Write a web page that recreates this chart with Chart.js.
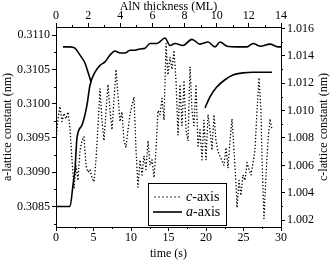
<!DOCTYPE html>
<html>
<head>
<meta charset="utf-8">
<script src="https://cdn.jsdelivr.net/npm/chart.js@4.4.0/dist/chart.umd.min.js"></script>
<style>
    html, body { margin: 0; padding: 0; background: #fff; }
</style>
</head>
<body>
<canvas id="latticeChart" width="332" height="261"></canvas>
<script>
// c-axis (dotted, right axis)
const cTime = [0.00, 0.27, 0.53, 0.80, 1.07, 1.33, 1.60, 1.87, 2.13, 2.40, 2.67, 2.93, 3.20, 3.47, 3.73, 4.00,
    4.27, 4.53, 4.80, 5.07, 5.33, 5.60, 5.87, 6.13, 6.40, 6.67, 6.93, 7.20, 7.47, 7.73, 8.00, 8.27, 8.53, 8.80,
    9.07, 9.33, 9.60, 9.87, 10.13, 10.40, 10.67, 10.93, 11.20, 11.47, 11.73, 12.00, 12.27, 12.53, 12.80, 13.07,
    13.33, 13.60, 13.87, 14.13, 14.40, 14.67, 14.93, 15.20, 15.47, 15.73, 16.00, 16.27, 16.53, 16.80, 17.07,
    17.33, 17.60, 17.87, 18.13, 18.40, 18.67, 18.93, 19.20, 19.47, 19.73, 20.00, 20.27, 20.53, 20.80, 21.07,
    21.33, 21.60, 22.00, 22.40, 22.67, 22.93, 23.20, 23.47, 23.73, 24.00, 24.13, 24.40, 24.67, 24.93, 25.20,
    25.47, 25.73, 26.00, 26.27, 26.53, 26.80, 27.07, 27.33, 27.47, 27.73, 28.00, 28.27, 28.53, 28.80];
const cLattice = [1.0078, 1.0094, 1.0103, 1.0092, 1.0098, 1.0094, 1.0099, 1.0087, 1.0064, 1.0043, 1.0060, 1.0049,
    1.0071, 1.0078, 1.0081, 1.0060, 1.0055, 1.0057, 1.0051, 1.0048, 1.0064, 1.0089, 1.0116, 1.0093, 1.0078,
    1.0100, 1.0119, 1.0100, 1.0086, 1.0108, 1.0130, 1.0111, 1.0092, 1.0099, 1.0078, 1.0073, 1.0086, 1.0097,
    1.0104, 1.0110, 1.0071, 1.0044, 1.0064, 1.0053, 1.0067, 1.0057, 1.0078, 1.0060, 1.0064, 1.0051, 1.0071,
    1.0100, 1.0097, 1.0109, 1.0093, 1.0149, 1.0126, 1.0139, 1.0130, 1.0144, 1.0122, 1.0082, 1.0119, 1.0089,
    1.0122, 1.0086, 1.0078, 1.0132, 1.0100, 1.0089, 1.0119, 1.0073, 1.0086, 1.0064, 1.0093, 1.0064, 1.0097,
    1.0086, 1.0071, 1.0097, 1.0078, 1.0070, 1.0065, 1.0060, 1.0073, 1.0058, 1.0078, 1.0094, 1.0071, 1.0046,
    1.0029, 1.0049, 1.0038, 1.0053, 1.0049, 1.0062, 1.0057, 1.0053, 1.0062, 1.0071, 1.0100, 1.0124, 1.0100,
    1.0064, 1.0021, 1.0053, 1.0078, 1.0094, 1.0086];

// a-axis (solid, left axis)
const aTime = [0, 1.87, 2.27, 2.53, 2.8, 3.47, 4.13, 4.53, 5.2, 5.87, 6.53, 7.2, 7.87, 8.53, 9.2, 9.87, 10.53,
    11.2, 11.87, 12.53, 13.47, 14.53, 15.2, 15.87, 16.93, 18.13, 19.2, 20.27, 21.2, 21.87, 22.8, 24.13, 25.47,
    26.27, 27.2, 28.53, 29.6, 30];
const aLattice = [0.30850, 0.30850, 0.30882, 0.30904, 0.30950, 0.30969, 0.30998, 0.31027, 0.31046, 0.31056,
    0.31061, 0.31071, 0.31077, 0.31074, 0.31074, 0.31078, 0.31078, 0.31080, 0.31081, 0.31088, 0.31088, 0.31096,
    0.31085, 0.31088, 0.31085, 0.31094, 0.31087, 0.31090, 0.31083, 0.31090, 0.31084, 0.31083, 0.31083, 0.31088,
    0.31084, 0.31087, 0.31083, 0.31083];

// guide curves drawn in the original figure
const dipTime = [0.93, 1.87, 2.53, 3.2, 3.87, 4.27, 4.67];
const dipLattice = [0.31083, 0.31083, 0.31081, 0.31071, 0.31059, 0.31046, 0.31032];
const riseTime = [19.87, 20.53, 21.4, 22.53, 23.6, 24.93, 26.27, 28.8];
const riseLattice = [0.30994, 0.31010, 0.31024, 0.31035, 0.31042, 0.31045, 0.31046, 0.31046];

// tick labels
const timeTicks = [0, 5, 10, 15, 20, 25, 30];
const thicknessTicks = [0, 2, 4, 6, 8, 10, 12, 14];
const aTicks = [0.3085, 0.3090, 0.3095, 0.3100, 0.3105, 0.3110];
const cTicks = [1.002, 1.004, 1.006, 1.008, 1.010, 1.012, 1.014, 1.016];

const serif = '"Liberation Serif", "DejaVu Serif", serif';

function points(xs, ys) {
    return xs.map((x, i) => ({ x: x, y: ys[i] }));
}

function setTicks(values) {
    return function (scale) {
        scale.ticks = values.map(v => ({ value: v }));
    };
}

function axis(position, min, max, ticks, digits, size, title) {
    const horizontal = position === 'top' || position === 'bottom';
    return {
        type: 'linear',
        position: position,
        min: min,
        max: max,
        afterBuildTicks: setTicks(ticks),
        afterFit: function (scale) {
            if (horizontal) scale.height = size;
            else scale.width = size;
        },
        grid: { drawOnChartArea: false, tickLength: 4, color: '#000', tickColor: '#000' },
        border: { display: true, color: '#000', width: 1 },
        ticks: {
            color: '#000',
            padding: horizontal ? 1 : 2,
            maxRotation: 0,
            autoSkip: false,
            font: { family: serif, size: 12, lineHeight: 1 },
            callback: v => v.toFixed(digits)
        },
        title: title
    };
}

// minor tick marks, placed through the chart's own scales
const minorTicks = {
    id: 'minorTicks',
    afterDraw(chart) {
        const ctx = chart.ctx;
        const s = chart.scales;
        const area = chart.chartArea;
        ctx.save();
        ctx.strokeStyle = '#000';
        ctx.lineWidth = 1;
        ctx.beginPath();
        for (let v = 2.5; v < 30; v += 5) {
            const x = Math.round(s.x.getPixelForValue(v)) + 0.5;
            ctx.moveTo(x, area.bottom); ctx.lineTo(x, area.bottom + 2);
        }
        for (let v = 1; v < 14; v += 2) {
            const x = Math.round(s.xTop.getPixelForValue(v)) + 0.5;
            ctx.moveTo(x, area.top); ctx.lineTo(x, area.top - 2);
        }
        for (let v = 0.30825; v < 0.3111; v += 0.0005) {
            const y = Math.round(s.y.getPixelForValue(v)) + 0.5;
            ctx.moveTo(area.left, y); ctx.lineTo(area.left - 2, y);
        }
        for (let v = 1.003; v < 1.016; v += 0.002) {
            const y = Math.round(s.y2.getPixelForValue(v)) + 0.5;
            ctx.moveTo(area.right, y); ctx.lineTo(area.right + 2, y);
        }
        ctx.stroke();
        ctx.restore();
    }
};

// right axis title reading bottom-to-top, like the left one
const rightTitle = {
    id: 'rightTitle',
    afterDraw(chart) {
        const ctx = chart.ctx;
        const area = chart.chartArea;
        ctx.save();
        ctx.translate(324, (area.top + area.bottom) / 2);
        ctx.rotate(-Math.PI / 2);
        ctx.font = '12px ' + serif;
        ctx.fillStyle = '#000';
        ctx.textAlign = 'center';
        ctx.textBaseline = 'middle';
        ctx.fillText('c-lattice constant (nm)', 0, 0);
        ctx.restore();
    }
};

// legend box inside the plot
const insetLegend = {
    id: 'insetLegend',
    afterDraw(chart) {
        const ctx = chart.ctx;
        const x0 = 148.5, y0 = 183.5, w = 78, h = 42;
        ctx.save();
        ctx.fillStyle = '#fff';
        ctx.fillRect(x0, y0, w, h);
        ctx.strokeStyle = '#000';
        ctx.lineWidth = 1;
        ctx.strokeRect(x0, y0, w, h);

        ctx.lineWidth = 1.5;
        ctx.lineCap = 'round';
        ctx.setLineDash([0.01, 4]);
        ctx.beginPath();
        ctx.moveTo(155, 197); ctx.lineTo(182, 197);
        ctx.stroke();
        ctx.setLineDash([]);
        ctx.lineCap = 'butt';
        ctx.lineWidth = 1.6;
        ctx.beginPath();
        ctx.moveTo(153, 212); ctx.lineTo(182, 212);
        ctx.stroke();

        ctx.fillStyle = '#000';
        ctx.textBaseline = 'alphabetic';
        const rows = [['c', '-axis', 201], ['a', '-axis', 216]];
        rows.forEach(r => {
            ctx.font = 'italic 14px ' + serif;
            ctx.fillText(r[0], 186, r[2]);
            const wi = ctx.measureText(r[0]).width;
            ctx.font = '14px ' + serif;
            ctx.fillText(r[1], 186 + wi, r[2]);
        });
        ctx.restore();
    }
};

const titleFont = { family: serif, size: 12, lineHeight: 1.1 };

const config = {
    type: 'line',
    data: {
        datasets: [
            {
                label: 'c-axis',
                data: points(cTime, cLattice),
                yAxisID: 'y2',
                borderColor: '#000',
                borderWidth: 1.5,
                borderDash: [0.01, 3.3],
                borderCapStyle: 'round',
                pointRadius: 0,
                tension: 0
            },
            {
                label: 'a-axis',
                data: points(aTime, aLattice),
                yAxisID: 'y',
                borderColor: '#000',
                borderWidth: 1.6,
                pointRadius: 0,
                cubicInterpolationMode: 'monotone'
            },
            {
                label: 'dip',
                data: points(dipTime, dipLattice),
                yAxisID: 'y',
                borderColor: '#000',
                borderWidth: 1.6,
                pointRadius: 0,
                cubicInterpolationMode: 'monotone'
            },
            {
                label: 'rise',
                data: points(riseTime, riseLattice),
                yAxisID: 'y',
                borderColor: '#000',
                borderWidth: 1.6,
                pointRadius: 0,
                cubicInterpolationMode: 'monotone'
            }
        ]
    },
    options: {
        responsive: false,
        animation: false,
        layout: { padding: 0 },
        plugins: {
            legend: { display: false },
            tooltip: { enabled: false }
        },
        scales: {
            x: axis('bottom', 0, 30, timeTicks, 0, 34,
                { display: true, text: 'time (s)', color: '#000', font: titleFont, padding: { top: 0, bottom: 1 } }),
            xTop: axis('top', 0, 14, thicknessTicks, 0, 27,
                { display: true, text: 'AlN thickness (ML)', color: '#000', font: titleFont, padding: { top: 0, bottom: 0 } }),
            y: axis('left', 0.3082, 0.31112, aTicks, 4, 56,
                { display: true, text: 'a-lattice constant (nm)', color: '#000', font: titleFont, padding: { top: 1, bottom: 0 } }),
            y2: axis('right', 1.0015, 1.0161, cTicks, 3, 51, { display: false })
        }
    },
    plugins: [minorTicks, rightTitle, insetLegend]
};

new Chart(document.getElementById('latticeChart').getContext('2d'), config);
</script>
</body>
</html>
